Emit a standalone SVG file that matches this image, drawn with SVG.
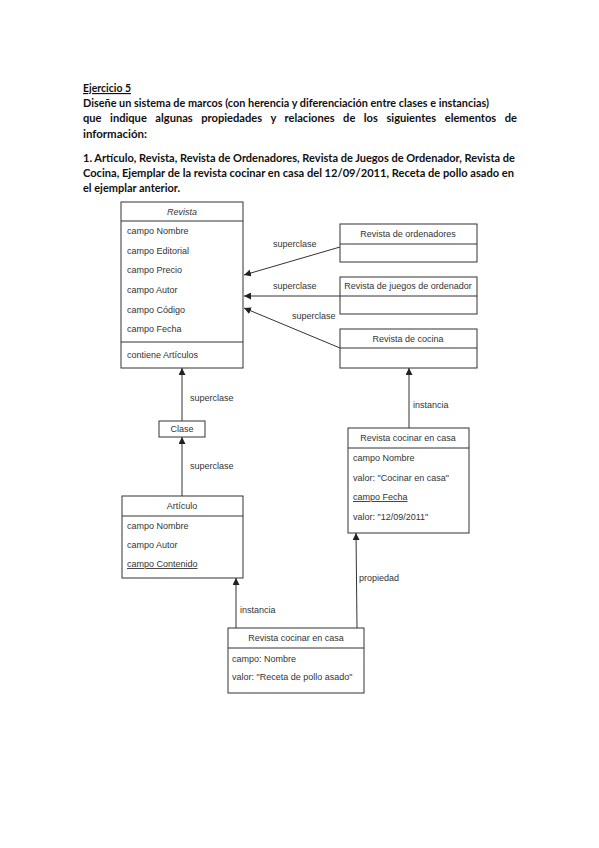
<svg xmlns="http://www.w3.org/2000/svg" width="599" height="848" viewBox="0 0 599 848">
<defs>
<style>
.h{font-family:Lato,"Liberation Sans",Arial,sans-serif;font-weight:bold;font-size:11.5px;fill:#111}
.t{font-family:"Liberation Sans",Arial,sans-serif;font-size:9px;fill:#333}
.c{text-anchor:middle}
.b{fill:#fff;stroke:#333;stroke-width:1}
.l{stroke:#333;stroke-width:1;fill:none}
.u{text-decoration:underline}
</style>
<marker id="a" viewBox="0 0 10 10" refX="10" refY="5" markerWidth="7" markerHeight="7" markerUnits="userSpaceOnUse" orient="auto">
<path d="M0,0 L10,5 L0,10 z" fill="#222"/>
</marker>
</defs>
<rect width="599" height="848" fill="#fff"/>
<g id="header">
<text class="h u" x="83" y="92" textLength="48" lengthAdjust="spacingAndGlyphs">Ejercicio 5</text>
<text class="h" x="83" y="107" textLength="406" lengthAdjust="spacingAndGlyphs">Diseñe un sistema de marcos (con herencia y diferenciación entre clases e instancias)</text>
<text class="h" x="83" y="122" textLength="434" lengthAdjust="spacingAndGlyphs" word-spacing="6">que indique algunas propiedades y relaciones de los siguientes elementos de</text>
<text class="h" x="83" y="138" textLength="64" lengthAdjust="spacingAndGlyphs">información:</text>
<text class="h" x="83" y="162" textLength="432" lengthAdjust="spacingAndGlyphs">1. Artículo, Revista, Revista de Ordenadores, Revista de Juegos de Ordenador, Revista de</text>
<text class="h" x="83" y="177" textLength="431" lengthAdjust="spacingAndGlyphs">Cocina, Ejemplar de la revista cocinar en casa del 12/09/2011, Receta de pollo asado en</text>
<text class="h" x="83" y="192" textLength="97" lengthAdjust="spacingAndGlyphs">el ejemplar anterior.</text>
</g>
<g id="connectors">
<line class="l" x1="340" y1="247" x2="244" y2="275" marker-end="url(#a)"/>
<line class="l" x1="340" y1="296" x2="244" y2="296" marker-end="url(#a)"/>
<line class="l" x1="340" y1="348" x2="244" y2="308" marker-end="url(#a)"/>
<line class="l" x1="182" y1="421" x2="182" y2="368" marker-end="url(#a)"/>
<line class="l" x1="182" y1="496" x2="182" y2="437" marker-end="url(#a)"/>
<line class="l" x1="409" y1="428" x2="409" y2="368" marker-end="url(#a)"/>
<line class="l" x1="236" y1="628" x2="236" y2="578" marker-end="url(#a)"/>
<line class="l" x1="357" y1="628" x2="356" y2="533" marker-end="url(#a)"/>
<text class="t" x="273" y="247">superclase</text>
<text class="t" x="273" y="289">superclase</text>
<text class="t" x="292" y="319">superclase</text>
<text class="t" x="190" y="401">superclase</text>
<text class="t" x="190" y="469">superclase</text>
<text class="t" x="413" y="408">instancia</text>
<text class="t" x="240" y="613">instancia</text>
<text class="t" x="359" y="581">propiedad</text>
</g>
<g id="revista">
<rect class="b" x="121" y="202" width="122" height="166"/>
<line class="l" x1="121" y1="221" x2="243" y2="221"/>
<line class="l" x1="121" y1="342" x2="243" y2="342"/>
<text class="t c" x="182" y="215" font-style="italic">Revista</text>
<text class="t" x="127" y="234">campo Nombre</text>
<text class="t" x="127" y="254">campo Editorial</text>
<text class="t" x="127" y="273">campo Precio</text>
<text class="t" x="127" y="293">campo Autor</text>
<text class="t" x="127" y="313">campo Código</text>
<text class="t" x="127" y="332">campo Fecha</text>
<text class="t" x="127" y="358">contiene Artículos</text>
</g>
<g id="ordenadores">
<rect class="b" x="340" y="224" width="137" height="38"/>
<line class="l" x1="340" y1="244" x2="477" y2="244"/>
<text class="t c" x="408" y="237">Revista de ordenadores</text>
</g>
<g id="juegos">
<rect class="b" x="340" y="277" width="137" height="37"/>
<line class="l" x1="340" y1="296" x2="477" y2="296"/>
<text class="t c" x="408" y="289">Revista de juegos de ordenador</text>
</g>
<g id="cocina">
<rect class="b" x="340" y="329" width="137" height="39"/>
<line class="l" x1="340" y1="348" x2="477" y2="348"/>
<text class="t c" x="408" y="342">Revista de cocina</text>
</g>
<g id="clase">
<rect class="b" x="159" y="421" width="46" height="16"/>
<text class="t c" x="182" y="432">Clase</text>
</g>
<g id="articulo">
<rect class="b" x="122" y="496" width="121" height="82"/>
<line class="l" x1="122" y1="516" x2="243" y2="516"/>
<text class="t c" x="182" y="509">Artículo</text>
<text class="t" x="127" y="529">campo Nombre</text>
<text class="t" x="127" y="548">campo Autor</text>
<text class="t u" x="127" y="567">campo Contenido</text>
</g>
<g id="ejemplar">
<rect class="b" x="348" y="428" width="121" height="105"/>
<line class="l" x1="348" y1="448" x2="469" y2="448"/>
<text class="t c" x="408" y="441">Revista cocinar en casa</text>
<text class="t" x="353" y="461">campo Nombre</text>
<text class="t" x="353" y="481">valor: "Cocinar en casa"</text>
<text class="t u" x="353" y="500">campo Fecha</text>
<text class="t" x="353" y="520">valor: "12/09/2011"</text>
</g>
<g id="receta">
<rect class="b" x="228" y="628" width="136" height="65"/>
<line class="l" x1="228" y1="648" x2="364" y2="648"/>
<text class="t c" x="296" y="641">Revista cocinar en casa</text>
<text class="t" x="232" y="662">campo: Nombre</text>
<text class="t" x="232" y="680">valor: "Receta de pollo asado"</text>
</g>
</svg>
